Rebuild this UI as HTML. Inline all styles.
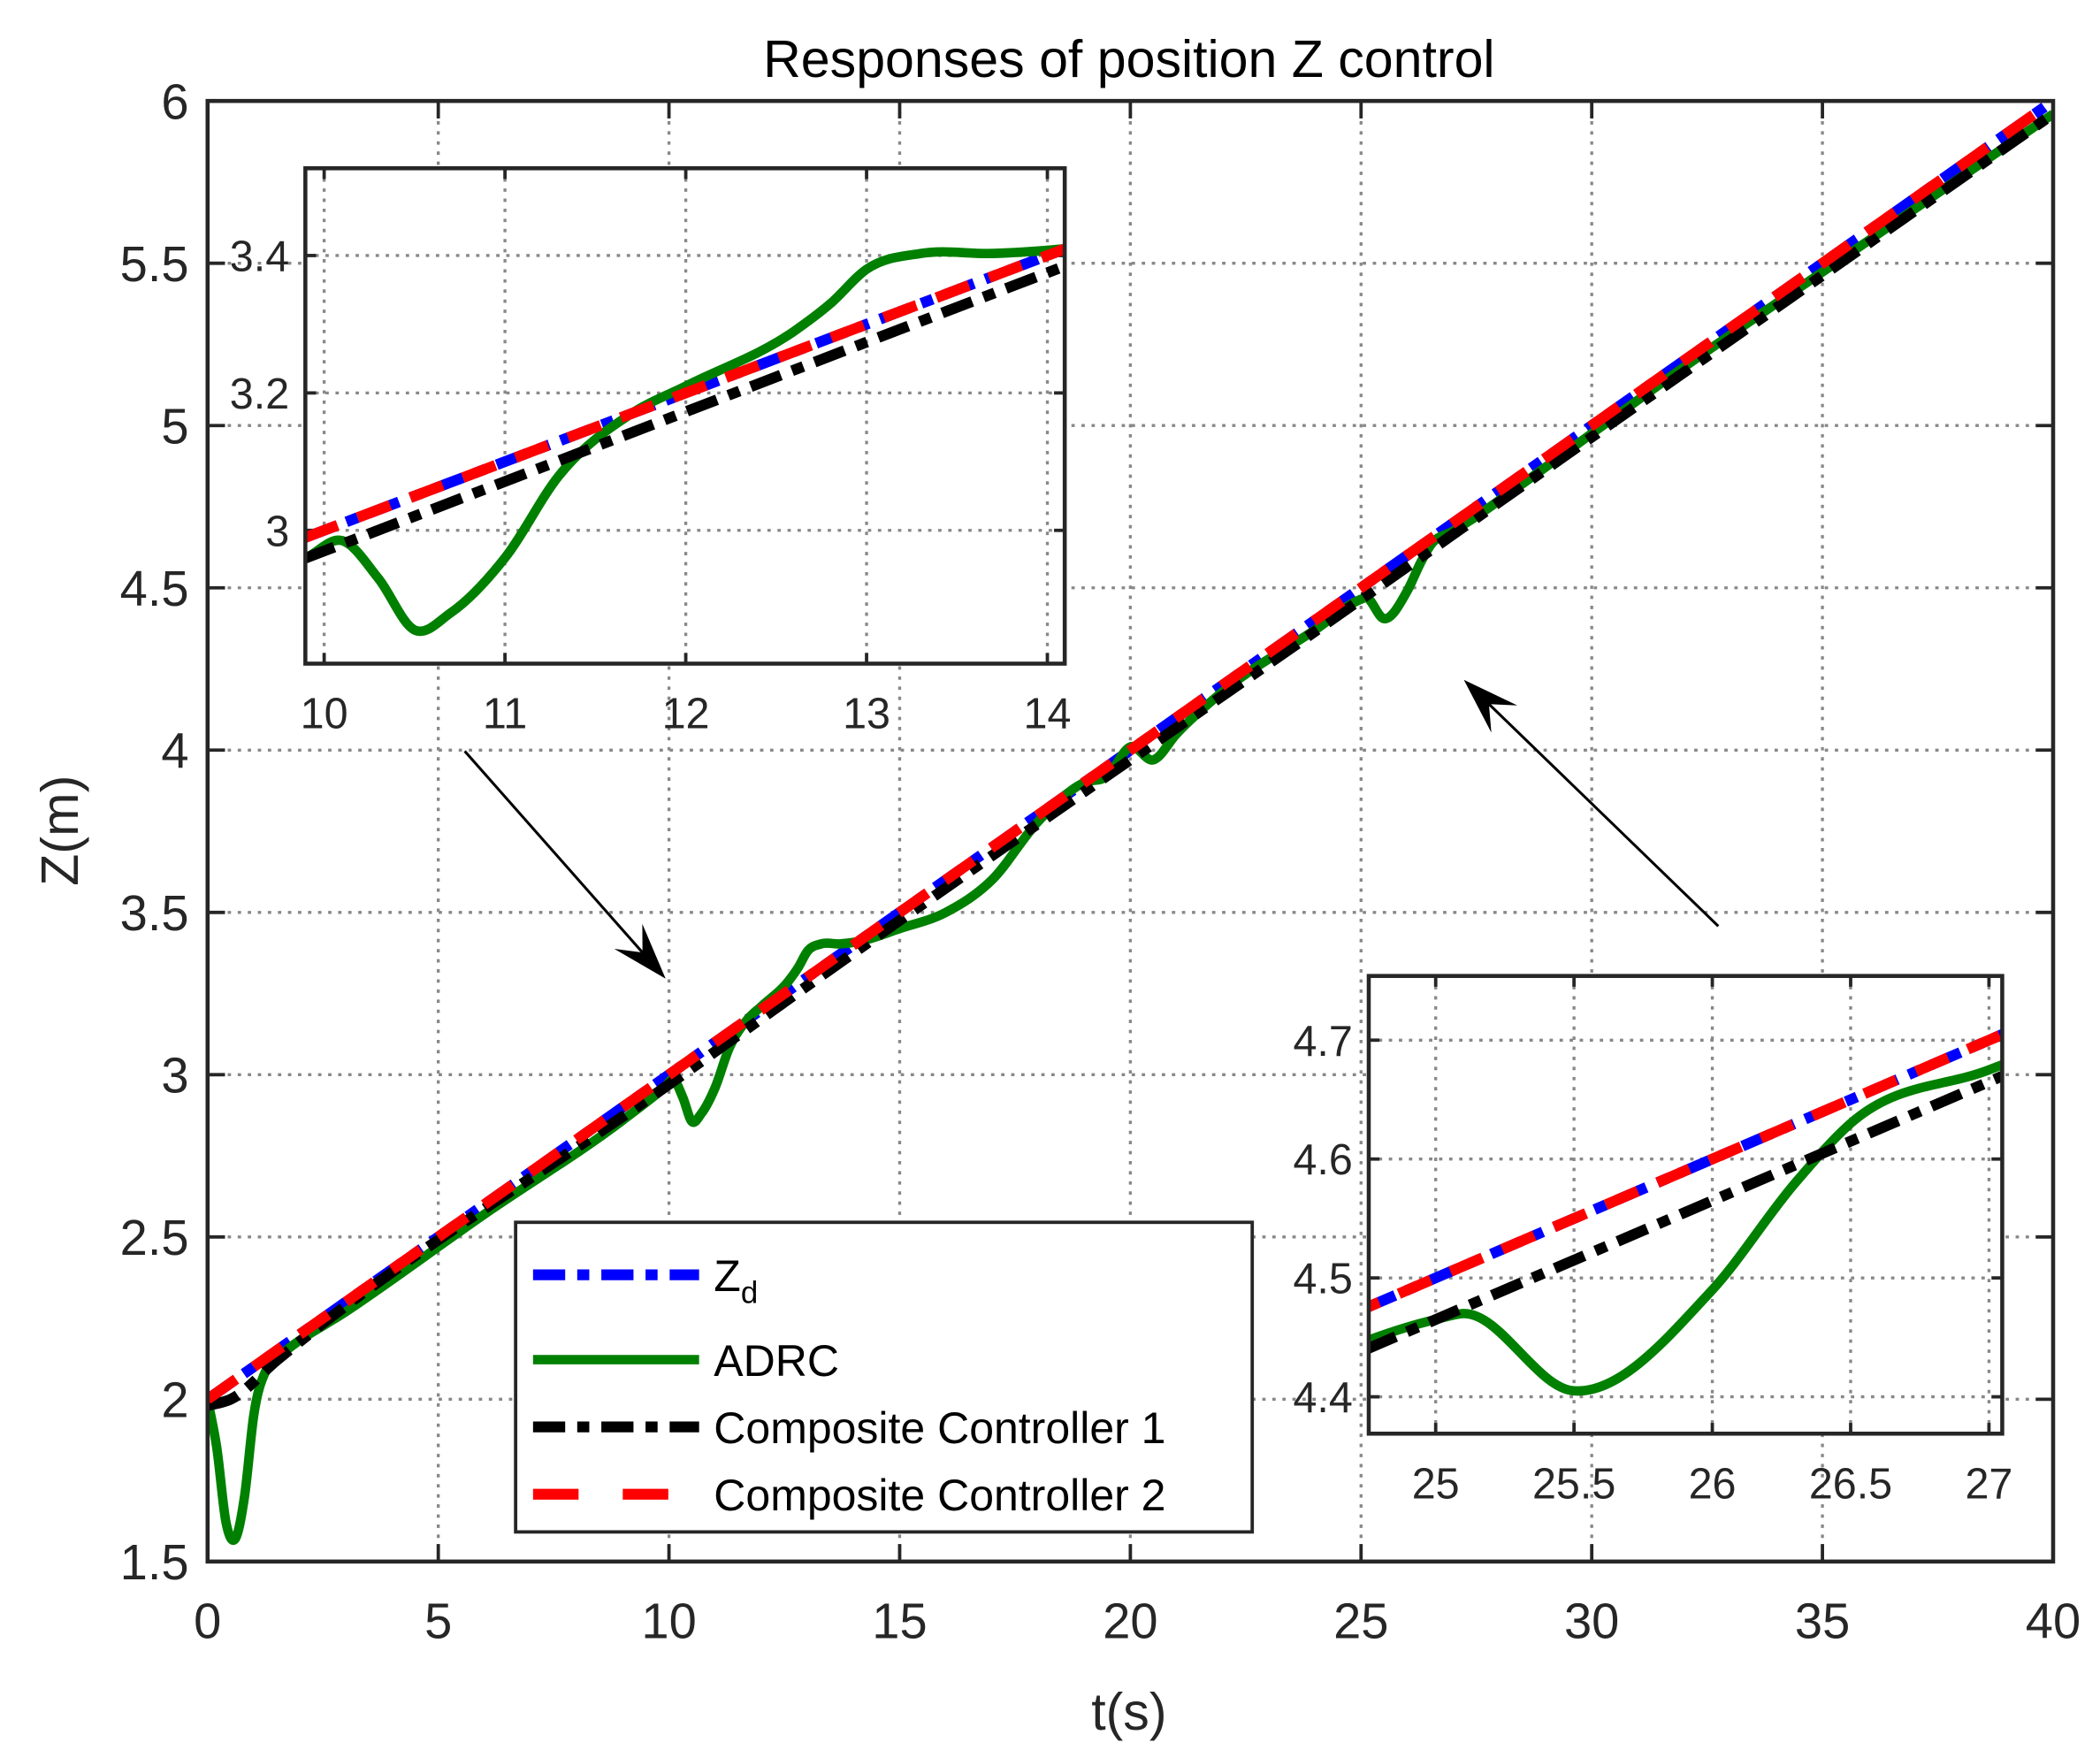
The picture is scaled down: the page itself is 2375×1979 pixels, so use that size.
<!DOCTYPE html>
<html><head><meta charset="utf-8"><style>
html,body{margin:0;padding:0;background:#fff;overflow:hidden;width:2375px;height:1979px;position:relative;}
svg{display:block;position:absolute;left:0;top:0;font-family:"Liberation Sans",Arial,sans-serif;}
</style></head><body>
<svg id="chart" width="2375" height="1979" viewBox="0 0 1568 1300" preserveAspectRatio="none" xmlns="http://www.w3.org/2000/svg">
<rect width="1568" height="1300" fill="#fff"/>
<defs>
<clipPath id="cpMain"><rect x="155" y="75" width="1378" height="1085"/></clipPath>
<clipPath id="cpIn1"><rect x="228" y="125" width="567" height="368"/></clipPath>
<clipPath id="cpIn2"><rect x="1022" y="725" width="473" height="340"/></clipPath>
</defs>
<g id="layer"></g>
</svg>
<script>
// ---- data ----
const tZd = [0, 40];
const zZd = [2, 6];
const tC2 = [0, 40];
const zC2 = [2.0, 6.0];
const tC1 = [0, 0.5, 1.5, 10, 14, 25, 27, 40];
const zC1 = [1.98, 2.0, 2.12, 2.97, 3.375, 4.465, 4.665, 5.96];
const tAD = [0, 0.2, 0.4, 0.6, 0.8, 1.0, 1.3, 1.7, 3, 6, 9, 9.9, 10.1, 10.3, 10.5, 10.7, 11, 11.3, 11.7, 12, 12.6, 12.8, 13, 13.3, 13.7, 14.1, 15, 16, 17, 18, 19, 19.5, 20, 20.5, 21, 22, 24, 25, 25.1, 25.5, 26, 26.3, 26.5, 27, 27.5, 28, 32, 36, 40];
const zAD = [2.0, 1.85, 1.62, 1.57, 1.7, 1.95, 2.1, 2.15, 2.27, 2.57, 2.86, 2.96, 2.985, 2.93, 2.855, 2.88, 2.96, 3.08, 3.17, 3.21, 3.29, 3.33, 3.38, 3.403, 3.403, 3.41, 3.45, 3.5, 3.6, 3.78, 3.9, 3.92, 4.01, 3.97, 4.05, 4.18, 4.37, 4.465, 4.47, 4.405, 4.49, 4.58, 4.63, 4.675, 4.72, 4.77, 5.18, 5.57, 5.96];
const xTicksMain = [0,5,10,15,20,25,30,35,40];
const yTicksMain = [1.5,2,2.5,3,3.5,4,4.5,5,5.5,6];
const xTicksIn1 = [10,11,12,13,14];
const yTicksIn1 = [3,3.2,3.4];
const xTicksIn2 = [25,25.5,26,26.5,27];
const yTicksIn2 = [4.4,4.5,4.6,4.7];

const NS="http://www.w3.org/2000/svg";
const layer=document.getElementById('layer');
function mk(tag,attrs,parent){const e=document.createElementNS(NS,tag);for(const k in attrs)e.setAttribute(k,attrs[k]);(parent||layer).appendChild(e);return e;}
function axis(x0,x1,y0,y1,L,R,T,B){return {L,R,T,B,x:v=>L+(v-x0)/(x1-x0)*(R-L),y:v=>B-(v-y0)/(y1-y0)*(B-T)};}
const main=axis(0,40,1.5,6,155,1533,75,1160);
const in1=axis(9.896,14.096,2.806,3.527,228,795,125,493);
const in2=axis(24.758,27.048,4.369,4.754,1022,1495,725,1065);

function slope(ts,zs,i){
  const n=ts.length;
  if(n<2)return 0;
  if(i===0)return (zs[1]-zs[0])/(ts[1]-ts[0]);
  if(i===n-1)return (zs[n-1]-zs[n-2])/(ts[n-1]-ts[n-2]);
  const a=(zs[i]-zs[i-1])/(ts[i]-ts[i-1]),b=(zs[i+1]-zs[i])/(ts[i+1]-ts[i]);
  const wa=ts[i+1]-ts[i],wb=ts[i]-ts[i-1];
  return (a*wa+b*wb)/(wa+wb);
}
function pathFor(ax,ts,zs){
  let d='M'+ax.x(ts[0]).toFixed(2)+','+ax.y(zs[0]).toFixed(2);
  for(let i=0;i<ts.length-1;i++){
    const h=ts[i+1]-ts[i],m1=slope(ts,zs,i),m2=slope(ts,zs,i+1);
    const c1x=ax.x(ts[i]+h/3),c1y=ax.y(zs[i]+m1*h/3);
    const c2x=ax.x(ts[i+1]-h/3),c2y=ax.y(zs[i+1]-m2*h/3);
    d+=' C'+[c1x,c1y,c2x,c2y].map(v=>v.toFixed(2)).join(',')+' '+ax.x(ts[i+1]).toFixed(2)+','+ax.y(zs[i+1]).toFixed(2);
  }
  return d;
}

function drawAxes(ax,xt,yt,fs,name,xlOff,ylOff,big){
  const g=mk('g',{});
  
  
  mk('rect',{x:ax.L,y:ax.T,width:ax.R-ax.L,height:ax.B-ax.T,fill:'#fff'},g);
  xt.forEach(v=>{const X=ax.x(v);
    mk('line',{x1:X,y1:ax.T,x2:X,y2:ax.B,stroke:'#888',"stroke-width":2.2,"stroke-dasharray":'2.5 5'},g);
    mk('line',{x1:X,y1:ax.B,x2:X,y2:ax.B-(big?13:8),stroke:'#262626',"stroke-width":2.5},g);
    mk('line',{x1:X,y1:ax.T,x2:X,y2:ax.T+(big?13:8),stroke:'#262626',"stroke-width":2.5},g);
    const t=mk('text',{x:X,y:ax.B+xlOff,"font-size":fs,"text-anchor":'middle',fill:'#262626'},g);t.textContent=String(v);
    
    
  });
  yt.forEach(v=>{const Y=ax.y(v);
    mk('line',{x1:ax.L,y1:Y,x2:ax.R,y2:Y,stroke:'#888',"stroke-width":2.2,"stroke-dasharray":'2.5 5'},g);
    mk('line',{x1:ax.L,y1:Y,x2:ax.L+(big?13:8),y2:Y,stroke:'#262626',"stroke-width":2.5},g);
    mk('line',{x1:ax.R,y1:Y,x2:ax.R-(big?13:8),y2:Y,stroke:'#262626',"stroke-width":2.5},g);
    const t=mk('text',{x:ax.L-ylOff,y:Y+fs*0.36,"font-size":fs,"text-anchor":'end',fill:'#262626'},g);t.textContent=String(v);
    
    
  });
  return g;
}
function drawSeries(ax,clip){
  const g=mk('g',{"clip-path":'url(#'+clip+')',fill:'none'});
  
  
  const s=[
    ['zd-line',tZd,zZd,'#0000ff',8,'24 9 9 9'],
    ['adrc-line',tAD,zAD,'#008000',7,''],
    ['cc1-line',tC1,zC1,'#000000',8,'24 9 9 9'],
    ['cc2-line',tC2,zC2,'#ff0000',8,'26 16']];
  s.forEach(([n,t,z,c,w,da])=>{
    const p=mk('path',{d:pathFor(ax,t,z),stroke:c,"stroke-width":w,"stroke-dasharray":da,"stroke-linejoin":'round'},g);
    
    
  });
  mk('rect',{x:ax.L,y:ax.T,width:ax.R-ax.L,height:ax.B-ax.T,fill:'none',stroke:'#262626',"stroke-width":3});
}

// main
drawAxes(main,xTicksMain,yTicksMain,37,'main-axes',57,14,true);
drawSeries(main,'cpMain');
let t=mk('text',{x:843,y:57,"font-size":39,"text-anchor":'middle',fill:'#000'});t.textContent='Responses of position Z control';

t=mk('text',{x:843,y:1285,"font-size":39,"text-anchor":'middle',fill:'#262626'});t.textContent='t(s)';

t=mk('text',{x:0,y:0,"font-size":39,"text-anchor":'middle',fill:'#262626',transform:'translate(58,617) rotate(-90)'});t.textContent='Z(m)';


// legend
const lg=mk('g',{});

mk('rect',{x:385,y:908,width:550,height:230,fill:'#fff',stroke:'#262626',"stroke-width":2.5},lg);
const le=[['Z','#0000ff','24 9 9 9',947],['ADRC','#008000','',1010],['Composite Controller 1','#000','24 9 9 9',1060],['Composite Controller 2','#ff0000','34 33',1110]];
le.forEach(([txt,c,da,y],i)=>{
  const e=mk('g',{},lg);
  
  mk('line',{x1:398,y1:y,x2:522,y2:y,stroke:c,"stroke-width":i==1?7:8,"stroke-dasharray":da},e);
  const tx=mk('text',{x:533,y:y+12,"font-size":33,fill:'#000'},e);tx.textContent=txt;
  if(i==0){const s=mk('tspan',{"font-size":23,dy:9},tx);s.textContent='d';}
});

// insets
drawAxes(in1,xTicksIn1,yTicksIn1,32,'inset-10-14-axes',48,12,false);
drawSeries(in1,'cpIn1');
drawAxes(in2,xTicksIn2,yTicksIn2,32,'inset-25-27-axes',48,12,false);
drawSeries(in2,'cpIn2');

// arrows
function arrow(x1,y1,x2,y2,name){
  const g=mk('g',{});
  const a=Math.atan2(y2-y1,x2-x1),L=42,W=14;
  const bx=x2-L*Math.cos(a),by=y2-L*Math.sin(a);
  mk('line',{x1,y1,x2:x2-20*Math.cos(a),y2:y2-20*Math.sin(a),stroke:'#000',"stroke-width":2},g);
  const px=-Math.sin(a),py=Math.cos(a);
  mk('polygon',{points:`${x2},${y2} ${bx+W*px},${by+W*py} ${x2-26*Math.cos(a)},${y2-26*Math.sin(a)} ${bx-W*px},${by-W*py}`,fill:'#000'},g);
}
arrow(347,558,497,727,'zoom-arrow-left');
arrow(1283,688,1093,505,'zoom-arrow-right');
</script>
</body></html>
